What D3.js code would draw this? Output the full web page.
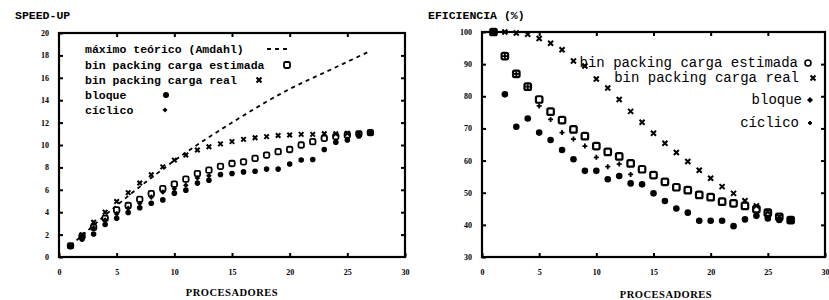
<!DOCTYPE html>
<html>
<head>
<meta charset="utf-8">
<script src="https://cdn.jsdelivr.net/npm/d3@7"></script>
<style>
  body { margin: 0; background: #fff; }
  svg { display: block; }
  .tick text { font-family: "Liberation Serif", serif; font-weight: bold; font-size: 8px; }
</style>
</head>
<body>
<svg id="chart" width="829" height="300"></svg>
<script>
// processors
const procs = d3.range(1, 28);
const procsCiclico = d3.range(1, 14);

// speed-up panel
const amdahlX = [1, 5, 10, 15, 20, 23.5, 27];
const amdahlY = [1, 4.6, 8.6, 12.0, 15.0, 16.7, 18.4];
const speedReal = [1, 2.0, 3.1, 4.0, 4.95, 5.75, 6.6, 7.35, 8.05, 8.65, 9.1, 9.55, 9.85, 10.1, 10.3, 10.5, 10.65, 10.75, 10.85, 10.9, 10.95, 10.95, 11.0, 11.0, 11.05, 11.05, 11.1];
const speedEstimada = [1, 1.85, 2.65, 3.45, 4.2, 4.6, 5.15, 5.65, 6.1, 6.5, 6.95, 7.45, 7.75, 8.1, 8.35, 8.5, 8.8, 9.1, 9.4, 9.6, 10.0, 10.3, 10.6, 10.75, 10.9, 11.0, 11.1];
const speedBloque = [1, 1.6, 2.05, 2.9, 3.45, 3.97, 4.4, 4.8, 5.1, 5.7, 5.97, 6.6, 6.85, 7.37, 7.45, 7.6, 7.65, 7.85, 7.85, 8.3, 8.66, 8.7, 9.6, 10.25, 10.45, 10.8, 11.05];
const speedCiclico = [1, 1.85, 2.6, 3.3, 3.85, 4.35, 4.8, 5.35, 5.8, 6.1, 6.4, 7.05, 7.25];

// efficiency panel (%)
const efReal = [100, 100, 99.7, 99.3, 98, 96.5, 94.5, 91, 89.4, 85.4, 82.6, 79, 75.3, 71.9, 68.5, 65.4, 62.5, 59.7, 57, 54.5, 51.9, 49.8, 47.5, 45.9, 44.1, 42.5, 41.5];
const efEstimada = [100, 92.5, 87, 83, 79, 75.2, 72.6, 69.7, 67.6, 64.5, 62.7, 61.3, 59.1, 57.3, 55.5, 53.4, 51.7, 50.8, 49.3, 48.6, 47.2, 46.7, 45.9, 44.9, 43.8, 42.5, 41.5];
const efBloque = [100, 80.6, 70.5, 73.1, 68.7, 66.4, 63.3, 60.4, 56.8, 56.8, 54.2, 55.2, 52.9, 52.6, 49.8, 47.4, 45.1, 43.8, 41.3, 41.3, 41.3, 39.6, 41.7, 42.8, 42, 41.5, 41.3];
const efCiclico = [100, 92.5, 87, 83, 77, 72.8, 68.7, 66.7, 64.5, 61, 58.1, 58.9, 55.7];

const xTicks = [0, 5, 10, 15, 20, 25, 30];
const speedTicks = d3.range(0, 21, 2);
const efTicks = d3.range(30, 101, 10);

const labelsL = ["máximo teórico (Amdahl)", "bin packing carga estimada", "bin packing carga real", "bloque", "cíclico"];
const labelsR = ["bin packing carga estimada", "bin packing carga real", "bloque", "cíclico"];

const svg = d3.select("#chart");
const mono = "'Liberation Mono', 'DejaVu Sans Mono', monospace";

// marker painters
function square(g, x, y, s, w) {
  g.append("rect").attr("x", x - s / 2).attr("y", y - s / 2).attr("width", s).attr("height", s)
    .attr("rx", 1.5).attr("fill", "#fff").attr("stroke", "#000").attr("stroke-width", w || 1.8);
}
function cross(g, x, y, s) {
  const h = s / 2;
  g.append("path").attr("d", `M${x - h},${y - h}L${x + h},${y + h}M${x - h},${y + h}L${x + h},${y - h}`)
    .attr("stroke", "#000").attr("stroke-width", 2);
}
function dot(g, x, y, r) {
  g.append("circle").attr("cx", x).attr("cy", y).attr("r", r).attr("fill", "#000");
}
function diamond(g, x, y, s) {
  g.append("path").attr("d", `M${x},${y - s}L${x + s},${y}L${x},${y + s}L${x - s},${y}Z`).attr("fill", "#000");
}
function plus(g, x, y, s) {
  g.append("path").attr("d", `M${x - s},${y}L${x + s},${y}M${x},${y - s}L${x},${y + s}`)
    .attr("stroke", "#000").attr("stroke-width", 1.8);
}

function frame(x, y, yTicks, labelX) {
  const g = svg.append("g");
  const [x0, x1] = x.range();
  const [y0, y1] = y.range();
  g.append("g").attr("transform", `translate(0,${y0})`)
    .call(d3.axisBottom(x).tickValues(xTicks).tickSizeInner(-4).tickSizeOuter(0).tickPadding(12))
    .call(a => a.select(".domain").remove())
    .call(a => a.selectAll("line").attr("stroke-width", 2));
  g.append("g").attr("transform", `translate(0,${y1})`)
    .call(d3.axisTop(x).tickValues(xTicks.slice(1, -1)).tickSizeInner(-4).tickSizeOuter(0).tickFormat(""))
    .call(a => a.select(".domain").remove())
    .call(a => a.selectAll("line").attr("stroke-width", 2));
  g.append("g").attr("transform", `translate(${x0},0)`)
    .call(d3.axisLeft(y).tickValues(yTicks).tickSizeInner(-4).tickSizeOuter(0).tickPadding(labelX))
    .call(a => a.select(".domain").remove())
    .call(a => a.selectAll("line").attr("stroke-width", 2));
  g.append("g").attr("transform", `translate(${x1},0)`)
    .call(d3.axisRight(y).tickValues(yTicks.slice(1, -1)).tickSizeInner(-4).tickSizeOuter(0).tickFormat(""))
    .call(a => a.select(".domain").remove())
    .call(a => a.selectAll("line").attr("stroke-width", 2));
  g.append("rect").attr("x", x0).attr("y", y1).attr("width", x1 - x0).attr("height", y0 - y1)
    .attr("fill", "none").attr("stroke", "#000").attr("stroke-width", 2.2);
  return g;
}

// -------------------- SPEED-UP --------------------
const xL = d3.scaleLinear().domain([0, 30]).range([59, 405]);
const yL = d3.scaleLinear().domain([0, 20]).range([257, 33]);
frame(xL, yL, speedTicks, 10);

svg.append("text").attr("x", 15).attr("y", 19).attr("font-family", mono).attr("font-weight", "bold")
  .attr("font-size", 11.5).text("SPEED-UP");
svg.append("text").attr("x", 232).attr("y", 296).attr("text-anchor", "middle")
  .attr("font-family", "'Liberation Serif', serif").attr("font-weight", "bold").attr("font-size", 10.5)
  .attr("letter-spacing", 0.5).text("PROCESADORES");

const amdahlLine = d3.line().x((d, i) => xL(amdahlX[i])).y(d => yL(d)).curve(d3.curveMonotoneX);
svg.append("path").datum(amdahlY).attr("d", amdahlLine).attr("fill", "none")
  .attr("stroke", "#000").attr("stroke-width", 1.8).attr("stroke-dasharray", "4,4");

const gL = svg.append("g");
procs.forEach((p, i) => square(gL, xL(p), yL(speedEstimada[i]), 5.5));
procs.forEach((p, i) => cross(gL, xL(p), yL(speedReal[i]), 4.5));
procs.forEach((p, i) => dot(gL, xL(p), yL(speedBloque[i]), 2.8));
procsCiclico.forEach((p, i) => diamond(gL, xL(p), yL(speedCiclico[i]), 2.8));

// left legend
const legL = svg.append("g").attr("font-family", mono).attr("font-weight", "bold").attr("font-size", 11.5);
const legLy = [49, 65, 80, 95, 110];
labelsL.forEach((t, i) => legL.append("text").attr("x", 85).attr("y", legLy[i] + 4).text(t));
legL.append("line").attr("x1", 267).attr("x2", 291).attr("y1", legLy[0]).attr("y2", legLy[0])
  .attr("stroke", "#000").attr("stroke-width", 1.8).attr("stroke-dasharray", "4,4");
square(legL, 287, legLy[1], 6);
cross(legL, 259, legLy[2], 5);
dot(legL, 166, legLy[3], 3);
diamond(legL, 165, legLy[4], 2.5);

// -------------------- EFICIENCIA --------------------
const xR = d3.scaleLinear().domain([0, 30]).range([482, 825]);
const yR = d3.scaleLinear().domain([30, 100]).range([257, 32]);
frame(xR, yR, efTicks, 10);

svg.append("text").attr("x", 428).attr("y", 19).attr("font-family", mono).attr("font-weight", "bold")
  .attr("font-size", 11.5).text("EFICIENCIA (%)");
svg.append("text").attr("x", 666).attr("y", 298).attr("text-anchor", "middle")
  .attr("font-family", "'Liberation Serif', serif").attr("font-weight", "bold").attr("font-size", 10.5)
  .attr("letter-spacing", 0.5).text("PROCESADORES");

const gR = svg.append("g");
procs.forEach((p, i) => square(gR, xR(p), yR(efEstimada[i]), 6.5, 2.2));
procs.forEach((p, i) => cross(gR, xR(p), yR(efReal[i]), 5));
procs.forEach((p, i) => dot(gR, xR(p), yR(efBloque[i]), 3.3));
procsCiclico.forEach((p, i) => plus(gR, xR(p), yR(efCiclico[i]), 2.5));

// right legend
const legR = svg.append("g").attr("font-family", mono).attr("font-size", 14);
const legRy = [63, 78, 100, 123];
const legRend = [798, 799, 802, 799];
labelsR.forEach((t, i) => legR.append("text").attr("x", legRend[i]).attr("y", legRy[i] + 4)
  .attr("text-anchor", "end").text(t));
legR.append("circle").attr("cx", 808).attr("cy", legRy[0]).attr("r", 3)
  .attr("fill", "none").attr("stroke", "#000").attr("stroke-width", 1.6);
cross(legR, 813, legRy[1], 5);
diamond(legR, 810, legRy[2], 3);
plus(legR, 810, legRy[3], 2);
</script>
</body>
</html>
